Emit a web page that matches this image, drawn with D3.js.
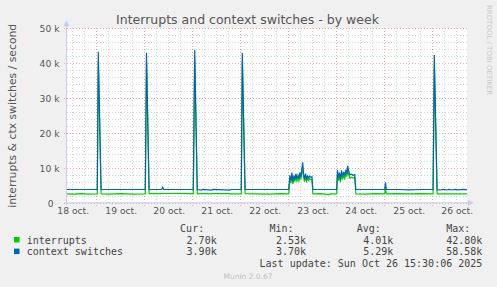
<!DOCTYPE html>
<html>
<head>
<meta charset="utf-8">
<script src="https://cdn.jsdelivr.net/npm/d3@7/dist/d3.min.js"></script>
<style>
  body { margin: 0; background: #f0f0f0; }
  svg { display: block; }
  text { font-family: "DejaVu Sans", sans-serif; }
  .mono { font-family: "DejaVu Sans Mono", monospace; }
</style>
</head>
<body>
<div id="chart"></div>
<script>
// hours since 18 oct. 00:00
var hours = [
  9.0, 13.0, 16.0, 20.0, 24.3, 24.8, 26.2, 30.0, 36.0, 42.0,
  48.3, 48.9, 50.2, 56.5, 57.0, 57.5, 64.0, 70.0, 72.3, 73.0,
  74.3, 76.5, 77.0, 81.5, 82.0, 90.5, 91.0, 96.3, 96.8, 98.2,
  104.0, 110.0, 116.0, 120.0, 120.6, 121.1, 121.6, 122.1, 122.6, 123.1,
  123.6, 124.1, 124.6, 125.1, 125.6, 126.1, 126.6, 127.0, 127.4, 127.9,
  128.4, 128.9, 129.4, 129.9, 130.4, 130.9, 131.6, 132.1, 136.0, 140.0,
  141.0, 144.0, 144.4, 144.9, 145.4, 145.9, 146.4, 146.9, 147.5, 148.0,
  148.6, 149.1, 149.5, 150.0, 150.6, 151.4, 152.2, 153.0, 153.6, 158.0,
  163.0, 168.0, 168.4, 168.8, 174.0, 180.0, 186.0, 192.2, 192.8, 194.2,
  196.0, 197.0, 199.0, 200.0, 202.0, 203.0, 205.0, 207.0, 209.2
];
var interrupts = [
  2700, 2650, 2750, 2650, 2700, 40500, 2700, 2650, 2750, 2650,
  2700, 40200, 2750, 2750, 2800, 2800, 2850, 2750, 2700, 41000,
  2700, 2750, 2750, 2700, 2800, 2750, 2700, 2700, 40300, 2750,
  2700, 2650, 2750, 2700, 7000, 5800, 7800, 5500, 7200, 6200,
  7600, 6300, 7200, 6400, 7900, 6800, 8800, 10200, 7600, 6200,
  7600, 6300, 7000, 6500, 7100, 6800, 6900, 2700, 2750, 2500,
  2700, 2700, 8500, 6500, 7800, 6000, 8400, 6800, 8000, 7100,
  8500, 7600, 9400, 8300, 7200, 7400, 7200, 7400, 2700, 2650,
  2750, 2700, 4500, 2700, 2750, 2700, 2750, 2700, 39500, 2700,
  2700, 2700, 2700, 2700, 2700, 2700, 2700, 2700, 2700
];
var ctxSwitches = [
  3950, 3950, 3950, 3950, 3950, 43300, 3950, 3950, 3950, 3950,
  3950, 43000, 3950, 3950, 4600, 3950, 3950, 3950, 3950, 43800,
  3950, 3750, 3950, 3750, 3950, 3750, 3950, 3950, 43000, 3950,
  3950, 3950, 3950, 3950, 8000, 6500, 8800, 6000, 8000, 6800,
  8500, 7000, 8000, 7000, 8800, 7500, 10000, 11700, 8500, 6800,
  8500, 7000, 7800, 7200, 7800, 7500, 7600, 4000, 3950, 3950,
  3950, 3950, 9500, 7200, 8800, 6800, 9400, 7600, 9000, 7900,
  9600, 8400, 10700, 9200, 8100, 8300, 8000, 8200, 3950, 3950,
  3950, 3950, 6000, 3950, 3950, 3850, 3950, 3950, 42400, 3900,
  3800, 3950, 3800, 3950, 3800, 3950, 3850, 3950, 3900
];

var dayLabels = ["18 oct.", "19 oct.", "20 oct.", "21 oct.", "22 oct.", "23 oct.", "24 oct.", "25 oct.", "26 oct."];
var yTicks = [0, 10000, 20000, 30000, 40000, 50000];
var yLabels = ["0", "10 k", "20 k", "30 k", "40 k", "50 k"];

var seriesNames = ["interrupts", "context switches"];
var curValues = ["2.70k", "3.90k"];
var minValues = ["2.53k", "3.70k"];
var avgValues = ["4.01k", "5.29k"];
var maxValues = ["42.80k", "58.58k"];
var seriesColors = ["#00cc00", "#0066b3"];

var W = 497, H = 287;
var plotLeft = 67, plotTop = 28.3, plotW = 400, plotH = 175;

var svg = d3.select("#chart").append("svg")
    .attr("width", W)
    .attr("height", H);

svg.append("rect").attr("width", W).attr("height", H).attr("fill", "#f0f0f0");

// Set the ranges
var x = d3.scaleLinear().domain([9.15, 209.15]).range([plotLeft, plotLeft + plotW]);
var y = d3.scaleLinear().domain([0, 50000]).range([plotTop + plotH, plotTop]);

// canvas
svg.append("rect")
    .attr("x", plotLeft).attr("y", plotTop)
    .attr("width", plotW).attr("height", plotH)
    .attr("fill", "#ffffff");

var grid = svg.append("g").attr("shape-rendering", "crispEdges");

// minor grid every 6 h and every 2 k
d3.range(12, 210, 6).filter(function(h) { return h % 24 != 0; }).forEach(function(h) {
    grid.append("line")
        .attr("x1", x(h)).attr("x2", x(h))
        .attr("y1", plotTop).attr("y2", plotTop + plotH)
        .attr("stroke", "#d4d4d4").attr("stroke-dasharray", "1,2");
});
d3.range(2000, 50000, 2000).filter(function(v) { return v % 10000 != 0; }).forEach(function(v) {
    grid.append("line")
        .attr("x1", plotLeft).attr("x2", plotLeft + plotW)
        .attr("y1", y(v)).attr("y2", y(v))
        .attr("stroke", "#d4d4d4").attr("stroke-dasharray", "1,2");
});

// major grid: midnights and 10 k
d3.range(24, 210, 24).forEach(function(h) {
    grid.append("line")
        .attr("x1", x(h)).attr("x2", x(h))
        .attr("y1", plotTop).attr("y2", plotTop + plotH + 3)
        .attr("stroke", "#eaa8a8").attr("stroke-dasharray", "1,2");
});
yTicks.forEach(function(v) {
    grid.append("line")
        .attr("x1", plotLeft - 3).attr("x2", plotLeft + plotW + 2)
        .attr("y1", y(v)).attr("y2", y(v))
        .attr("stroke", "#eaa8a8").attr("stroke-dasharray", "1,2");
});

// Define the line
var line = function(values) {
    return d3.line()
        .x(function(d, i) { return x(hours[i]); })
        .y(function(d) { return y(d); })(values);
};

svg.append("path")
    .attr("d", line(interrupts))
    .attr("fill", "none")
    .attr("stroke", seriesColors[0])
    .attr("stroke-width", 1.2);

svg.append("path")
    .attr("d", line(ctxSwitches))
    .attr("fill", "none")
    .attr("stroke", seriesColors[1])
    .attr("stroke-width", 1.2);

// axes lines with arrows
var axisColor = "#c8ccf0";
svg.append("line")
    .attr("x1", plotLeft - 0.5).attr("x2", plotLeft - 0.5)
    .attr("y1", plotTop + plotH + 2).attr("y2", plotTop - 4)
    .attr("stroke", axisColor);
svg.append("path")
    .attr("d", "M" + (plotLeft - 3.5) + "," + (plotTop - 2) + "L" + (plotLeft - 0.5) + "," + (plotTop - 8) + "L" + (plotLeft + 2.5) + "," + (plotTop - 2) + "Z")
    .attr("fill", axisColor);
svg.append("line")
    .attr("x1", plotLeft - 3).attr("x2", plotLeft + plotW + 2)
    .attr("y1", plotTop + plotH - 0.5).attr("y2", plotTop + plotH - 0.5)
    .attr("stroke", axisColor);
svg.append("path")
    .attr("d", "M" + (plotLeft + plotW + 1) + "," + (plotTop + plotH - 3.5) + "L" + (plotLeft + plotW + 7) + "," + (plotTop + plotH - 0.5) + "L" + (plotLeft + plotW + 1) + "," + (plotTop + plotH + 2.5) + "Z")
    .attr("fill", axisColor);

// Add X axis labels (centred at noon)
var xAxis = d3.axisBottom(x)
    .tickValues(dayLabels.map(function(d, i) { return 12 + 24 * i; }))
    .tickFormat(function(d, i) { return dayLabels[i]; })
    .tickSize(0).tickPadding(0);
var gx = svg.append("g")
    .attr("transform", "translate(0," + (plotTop + plotH + 4) + ")")
    .call(xAxis);
gx.select(".domain").remove();
gx.selectAll("text")
    .attr("dy", "0.78em")
    .style("font-size", "9.2px")
    .style("font-family", "DejaVu Sans")
    .attr("fill", "#555");

// Add Y axis labels
var yAxis = d3.axisLeft(y)
    .tickValues(yTicks)
    .tickFormat(function(d, i) { return yLabels[i]; })
    .tickSize(0).tickPadding(0);
var gy = svg.append("g")
    .attr("transform", "translate(" + (plotLeft - 7.5) + ",0)")
    .call(yAxis);
gy.select(".domain").remove();
gy.selectAll("text")
    .attr("dx", function(d) { return d == 0 ? -6 : 0; }) // rrdtool leaves "0" short of the column
    .style("font-size", "9.2px")
    .style("font-family", "DejaVu Sans")
    .attr("fill", "#555");

// title
svg.append("text")
    .attr("x", 247.5).attr("y", 24)
    .style("text-anchor", "middle")
    .style("font-size", "12.5px")
    .attr("fill", "#555")
    .text("Interrupts and context switches - by week");

// text label y axis
svg.append("text")
    .attr("transform", "translate(15.5," + (plotTop + plotH / 2) + ") rotate(-90)")
    .style("text-anchor", "middle")
    .style("font-size", "10.8px")
    .attr("fill", "#555")
    .text("interrupts & ctx switches / second");

// watermark
svg.append("text")
    .attr("transform", "translate(486.5,5) rotate(90)")
    .style("font-size", "7px")
    .attr("fill", "#c8c8c8")
    .text("RRDTOOL / TOBI OETIKER");

// legend
var legend = svg.append("g").attr("class", "mono").attr("fill", "#444").style("font-size", "10px");
var colRight = [216.7, 306, 393.3, 482.3];
var headers = ["Cur:", "Min:", "Avg:", "Max:"];
headers.forEach(function(h, i) {
    legend.append("text")
        .attr("class", "mono")
        .attr("x", colRight[i] - (i == 3 ? 12 : 12.5)).attr("y", 232)
        .style("text-anchor", "end")
        .text(h);
});
var columns = [curValues, minValues, avgValues, maxValues];
seriesNames.forEach(function(name, r) {
    var yy = 243.5 + r * 11.6;
    legend.append("rect")
        .attr("x", 14).attr("y", yy - 6.5)
        .attr("width", 5.5).attr("height", 5.5)
        .attr("fill", seriesColors[r]);
    legend.append("text")
        .attr("class", "mono")
        .attr("x", 26.7).attr("y", yy)
        .text(name);
    columns.forEach(function(col, i) {
        legend.append("text")
            .attr("class", "mono")
            .attr("x", colRight[i]).attr("y", yy)
            .style("text-anchor", "end")
            .text(col[r]);
    });
});
legend.append("text")
    .attr("class", "mono")
    .attr("x", 482.3).attr("y", 267.3)
    .style("text-anchor", "end")
    .text("Last update: Sun Oct 26 15:30:06 2025");

svg.append("text")
    .attr("x", 248).attr("y", 279)
    .style("text-anchor", "middle")
    .style("font-size", "7.5px")
    .attr("fill", "#c0c0c0")
    .text("Munin 2.0.67");
</script>
</body>
</html>
